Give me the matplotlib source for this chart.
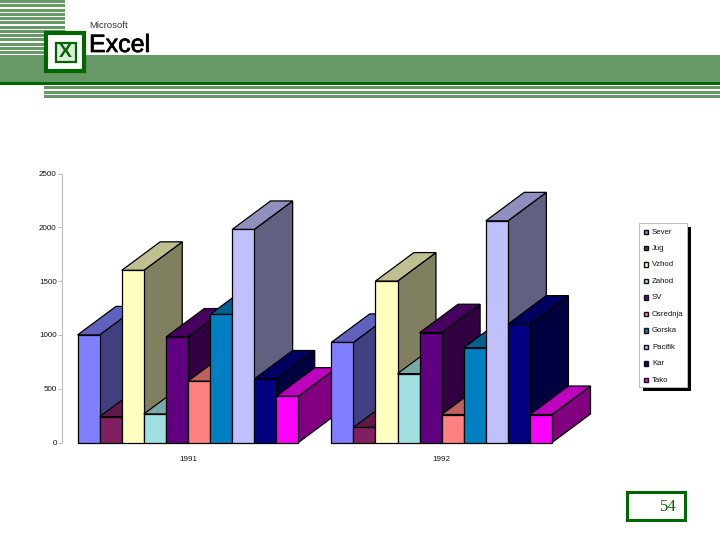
import matplotlib
matplotlib.use("Agg")
import matplotlib.pyplot as plt
import matplotlib.patheffects as pe
from matplotlib.patches import Polygon, Rectangle

plt.rcParams['font.family'] = ['Liberation Sans', 'DejaVu Sans']

# Data
years = ['1991', '1992']
regions = ['Sever', 'Jug', 'Vzhod', 'Zahod', 'SV', 'Osrednja', 'Gorska', 'Pacifik', 'Kar', 'Tako']
values_1991 = [1000, 240, 1600, 265, 980, 570, 1190, 1980, 590, 430]
values_1992 = [930, 140, 1500, 640, 1020, 260, 880, 2060, 1100, 260]
colors = ['#8080FF', '#802060', '#FFFFC0', '#A0E0E0', '#600080',
          '#FF8080', '#0080C0', '#C0C0FF', '#000080', '#FF00FF']
yticks = [0, 500, 1000, 1500, 2000, 2500]

GREEN = '#669966'
DARK = '#006600'
group_pos = [0, 11.49]
depth_x = 1.74
depth_y = 265


def shade(c, f):
    r, g, b = matplotlib.colors.to_rgb(c)
    return (r * f, g * f, b * f)


fig = plt.figure(figsize=(7.2, 5.4), dpi=100)

# slide decoration, pixel coordinates
bg = fig.add_axes([0, 0, 1, 1])
bg.set_xlim(0, 720)
bg.set_ylim(540, 0)
bg.axis('off')

for k in range(13):
    bg.add_patch(Rectangle((0, k * 4.25), 65, 3, color=GREEN, lw=0))
bg.add_patch(Rectangle((0, 55), 720, 27, color=GREEN, lw=0))
bg.add_patch(Rectangle((0, 82), 720, 3, color=DARK, lw=0))
for y in [86, 90.7, 95]:
    bg.add_patch(Rectangle((44, y), 676, 3, color=GREEN, lw=0))

bg.add_patch(Rectangle((46, 33), 38, 38, fc='white', ec=DARK, lw=3))
bg.add_patch(Rectangle((56, 42.5), 19.5, 19, fc='#DDEEDD', ec=DARK, lw=1.6))
bg.text(65.5, 52.5, 'X', color=DARK, fontsize=14, fontweight='bold', ha='center', va='center')
bg.text(89.5, 26, 'Microsoft', fontsize=6.8, color='#333333', va='center')
bg.text(89, 52, 'Excel', fontsize=18, color='black', va='baseline',
        path_effects=[pe.withStroke(linewidth=0.5, foreground='black')])

# page number
bg.add_patch(Rectangle((626.5, 491.5), 58, 28, fc='white', ec=DARK, lw=2.2))
bg.text(677, 507, '54', color=DARK, fontsize=12, family='Liberation Serif', ha='right', va='center')

# legend
bg.add_patch(Rectangle((643, 227), 48, 164, color='black', lw=0))
bg.add_patch(Rectangle((639, 223), 48, 164, fc='white', ec='#BBBBBB', lw=0.7))
for i, name in enumerate(regions):
    y = 232 + i * 16.45
    bg.add_patch(Rectangle((643.5, y - 2.5), 4.5, 4.5, fc=colors[i], ec='#111111', lw=1))
    bg.text(652, y, name, fontsize=5.6, color='#111111', va='center')

# chart
ax = fig.add_axes([61.7 / 720, 97.5 / 540, (600 - 61.7) / 720, 269 / 540])
ax.patch.set_alpha(0)
ax.set_xlim(-5.72, 18.66)
ax.set_ylim(0, 2500)

for g, vals in enumerate([values_1991, values_1992]):
    for i, v in enumerate(vals):
        x0 = group_pos[g] - 5 + i
        x1 = x0 + 1
        z = 10 + g * 20 + i
        side = [(x1, 0), (x1 + depth_x, depth_y), (x1 + depth_x, v + depth_y), (x1, v)]
        top = [(x0, v), (x0 + depth_x, v + depth_y), (x1 + depth_x, v + depth_y), (x1, v)]
        ax.add_patch(Polygon(side, fc=shade(colors[i], 0.5), ec='black', lw=0.9, zorder=z, clip_on=False))
        ax.add_patch(Polygon(top, fc=shade(colors[i], 0.75), ec='black', lw=0.9, zorder=z, clip_on=False))
        ax.bar(x0, v, width=1, align='edge', color=colors[i], edgecolor='black', lw=0.9, zorder=z + 0.5, clip_on=False)

for s in ['top', 'right', 'bottom']:
    ax.spines[s].set_visible(False)
ax.spines['left'].set_color('#BBBBBB')
ax.spines['left'].set_linewidth(0.8)
ax.set_yticks(yticks)
ax.tick_params(axis='y', length=3, width=0.7, color='#BBBBBB', labelsize=5.8, labelcolor='#111111', pad=0.6)
ax.set_xticks(group_pos)
ax.set_xticklabels(years)
ax.tick_params(axis='x', length=0, labelsize=5.8, labelcolor='#111111', pad=10)

fig.savefig('out.png', dpi=100)
